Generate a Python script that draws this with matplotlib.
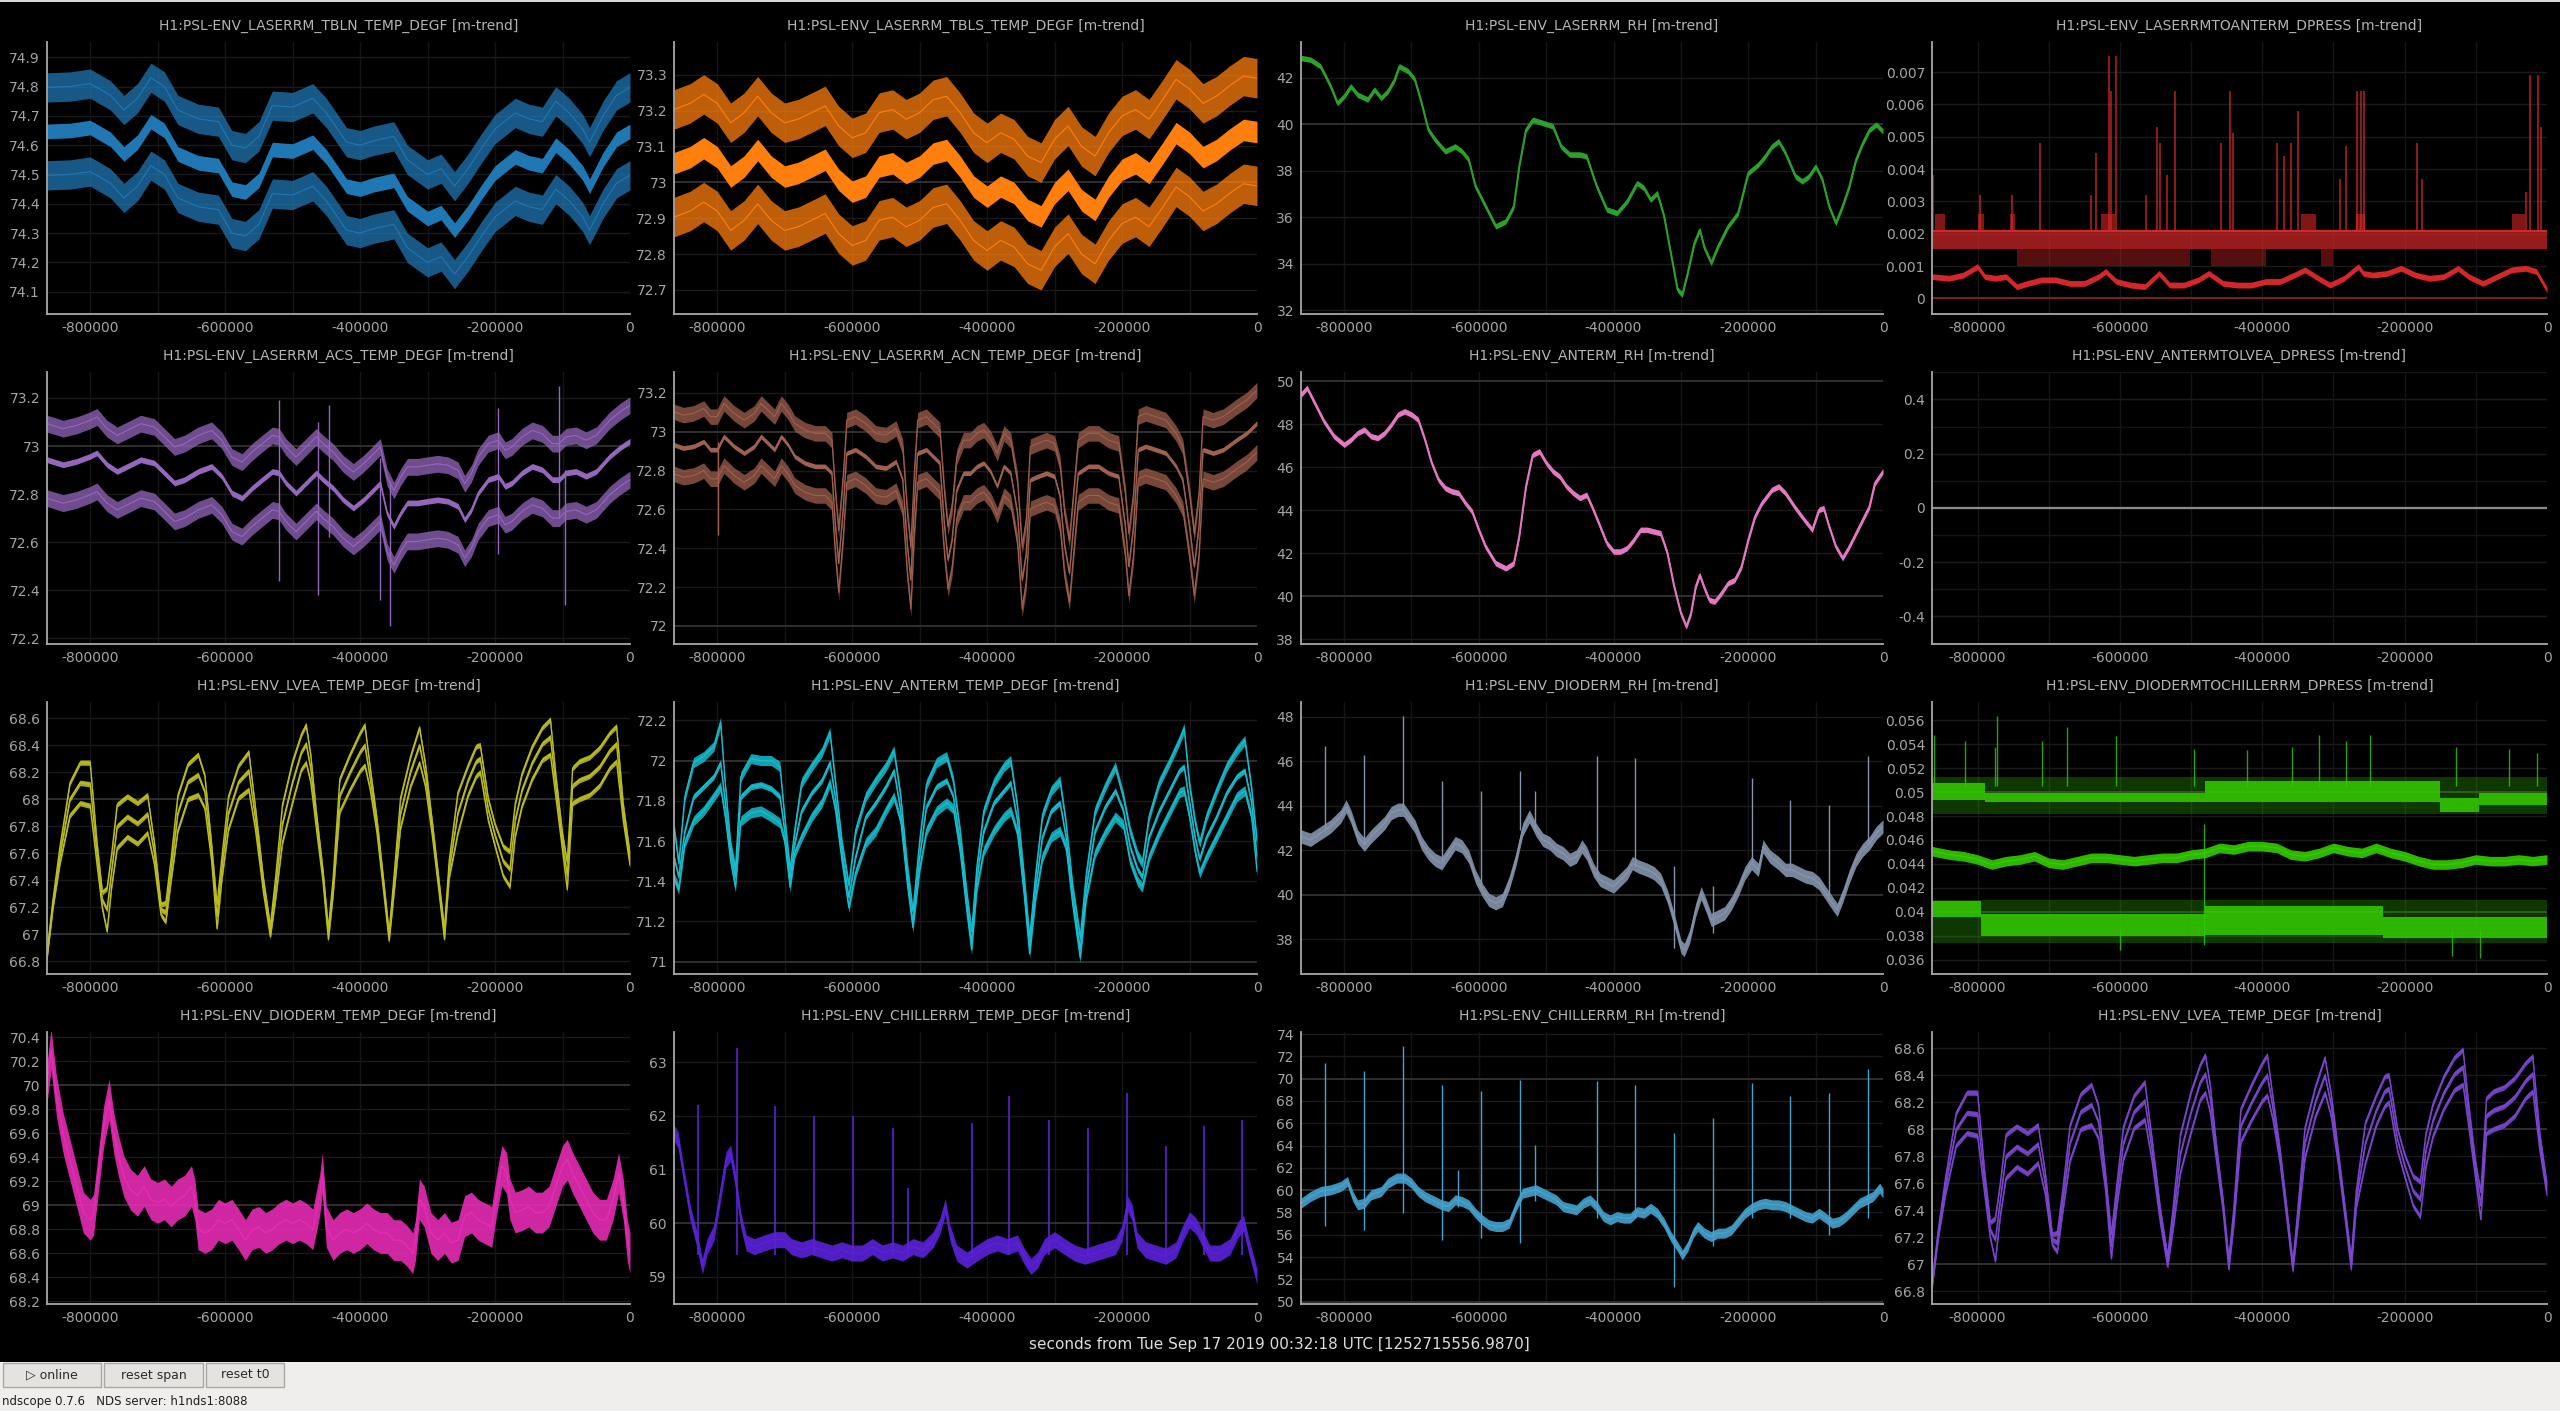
import numpy as np
import matplotlib.pyplot as plt
from matplotlib.patches import Rectangle

# ---- data: times in ks before t0 ----

TBLN_t = [-864, -830, -800, -770, -750, -730, -710, -690, -670, -640, -610, -590, -570, -550, -530, -500,
          -470, -450, -420, -400, -380, -350, -330, -300, -280, -260, -240, -220, -200, -170, -150, -130,
          -110, -90, -70, -60, -40, -20, 0]
TBLN_mean = [74.647, 74.65, 74.66, 74.62, 74.57, 74.61, 74.68, 74.65, 74.57, 74.54, 74.53, 74.45, 74.44,
             74.48, 74.585, 74.58, 74.61, 74.56, 74.46, 74.45, 74.465, 74.48, 74.40, 74.35, 74.37, 74.31,
             74.37, 74.44, 74.505, 74.56, 74.54, 74.53, 74.60, 74.56, 74.505, 74.46, 74.55, 74.62, 74.647]
TBLN_spread = (0.15, 0.15)

TBLS_t = [-864, -840, -820, -800, -780, -760, -740, -720, -700, -680, -660, -640, -620, -600, -580, -560,
          -540, -520, -500, -480, -460, -440, -420, -400, -380, -360, -340, -320, -300, -280, -260, -240,
          -220, -200, -180, -160, -140, -120, -100, -80, -60, -40, -20, 0]
TBLS_mean = [73.053, 73.07, 73.095, 73.07, 73.016, 73.044, 73.09, 73.044, 73.016, 73.026, 73.044, 73.063,
             73.007, 72.974, 72.988, 73.044, 73.053, 73.026, 73.044, 73.08, 73.09, 73.044, 72.988, 72.96,
             72.988, 72.97, 72.923, 72.905, 72.97, 73.007, 72.95, 72.923, 72.988, 73.035, 73.053, 73.026,
             73.08, 73.137, 73.11, 73.07, 73.09, 73.12, 73.146, 73.14]
TBLS_spread = (0.15, 0.15)

LRH_t = [-864, -850, -835, -820, -810, -800, -790, -780, -765, -755, -745, -735, -725, -718, -705, -695,
         -685, -675, -665, -650, -635, -625, -615, -605, -590, -575, -560, -548, -540, -530, -520, -505,
         -490, -478, -465, -450, -440, -425, -410, -395, -380, -365, -355, -345, -335, -325, -315, -305,
         -298, -290, -280, -272, -265, -255, -245, -230, -215, -200, -185, -175, -165, -155, -145, -130,
         -120, -110, -100, -90, -80, -70, -60, -50, -40, -30, -20, -10, 0]
LRH_v = [42.86, 42.79, 42.5, 41.64, 40.92, 41.21, 41.64, 41.28, 41.07, 41.5, 41.14, 41.43, 41.93, 42.5,
         42.29, 41.93, 40.92, 39.77, 39.34, 38.84, 39.05, 38.84, 38.48, 37.33, 36.47, 35.61, 35.82, 36.47,
         38.19, 39.77, 40.2, 40.06, 39.92, 39.05, 38.70, 38.70, 38.62, 37.33, 36.33, 36.18, 36.68, 37.47,
         37.26, 36.76, 37.04, 36.04, 34.46, 32.88, 32.66, 33.59, 34.89, 35.46, 34.67, 34.03, 34.74, 35.61,
         36.18, 37.91, 38.27, 38.62, 39.05, 39.27, 38.77, 37.76, 37.55, 37.76, 38.19, 37.62, 36.47, 35.75,
         36.47, 37.33, 38.48, 39.2, 39.77, 39.99, 39.7]

DP1_t = [-864, -840, -820, -800, -790, -775, -760, -745, -730, -710, -690, -670, -650, -630, -620, -605,
         -585, -565, -545, -530, -510, -490, -475, -455, -435, -415, -395, -375, -355, -340, -325, -305,
         -285, -265, -258, -245, -225, -205, -185, -165, -145, -125, -110, -90, -70, -50, -30, -15, 0]
DP1_mean = [0.67, 0.62, 0.72, 0.98, 0.67, 0.62, 0.67, 0.36, 0.46, 0.57, 0.57, 0.46, 0.46, 0.67, 0.83, 0.52,
            0.41, 0.36, 0.77, 0.41, 0.41, 0.57, 0.77, 0.46, 0.41, 0.41, 0.52, 0.52, 0.72, 0.88, 0.67, 0.41,
            0.62, 0.98, 0.77, 0.72, 0.77, 0.93, 0.72, 0.62, 0.67, 0.93, 0.67, 0.46, 0.67, 0.88, 0.93, 0.83,
            0.26]  # x 1e-3
DP1_max_band = (1.52, 2.08)
DP1_max_sparse = [(-744, -501), (-472, -395), (-318, -300)]
DP1_plateaus = [(-860, -846), (-800, -791), (-754, -747), (-627, -607), (-346, -324), (-268, -256),
                (-49, -31)]
DP1_spikes_t = [-863, -797, -751, -712, -640, -633, -616, -612, -606, -563, -548, -543, -534, -522, -458,
                -446, -441, -379, -370, -359, -350, -291, -282, -267, -261, -257, -183, -176, -30, -24,
                -12, -9]
DP1_spikes_top = [3.8, 3.2, 3.2, 4.8, 3.2, 4.5, 7.5, 6.4, 7.5, 3.2, 5.3, 4.8, 3.8, 6.4, 4.8, 6.4, 5.1,
                  4.8, 4.4, 4.8, 5.8, 3.7, 4.7, 6.4, 6.4, 6.4, 4.8, 3.7, 3.3, 6.9, 6.9, 5.3]

ACS_t = [-864, -840, -820, -800, -790, -775, -760, -745, -725, -705, -690, -675, -660, -640, -620, -605,
         -590, -575, -560, -545, -530, -520, -510, -495, -480, -465, -455, -440, -425, -410, -395, -380,
         -370, -360, -350, -340, -330, -315, -300, -285, -270, -255, -245, -235, -225, -210, -195, -185,
         -175, -160, -145, -130, -115, -105, -95, -80, -65, -50, -30, -15, 0]
ACS_mean = [72.943, 72.922, 72.936, 72.957, 72.971, 72.922, 72.894, 72.915, 72.943, 72.929, 72.888,
            72.846, 72.86, 72.894, 72.915, 72.874, 72.804, 72.783, 72.825, 72.86, 72.894, 72.888, 72.846,
            72.804, 72.846, 72.888, 72.86, 72.825, 72.776, 72.742, 72.776, 72.818, 72.846, 72.72, 72.665,
            72.72, 72.763, 72.763, 72.77, 72.776, 72.77, 72.749, 72.693, 72.735, 72.804, 72.86, 72.874,
            72.832, 72.846, 72.888, 72.915, 72.901, 72.86, 72.86, 72.888, 72.894, 72.874, 72.894, 72.957,
            72.992, 73.02]
ACS_spread = (0.15, 0.16)
ACS_spk_t = [-520, -463, -446, -370, -356, -195, -105, -97]
ACS_spk_lo = [72.44, 72.38, 72.62, 72.36, 72.25, 72.55, 72.70, 72.34]
ACS_spk_hi = [73.19, 73.10, 73.17, 72.95, 72.85, 73.16, 73.25, 72.90]

ACN_t = [-864, -850, -835, -820, -810, -800, -790, -775, -760, -745, -735, -725, -715, -705, -695, -685,
         -670, -655, -640, -630, -625, -620, -613, -608, -595, -580, -565, -550, -535, -525, -518, -513,
         -508, -503, -490, -480, -470, -463, -458, -452, -445, -435, -425, -415, -405, -395, -385, -375,
         -365, -355, -348, -342, -336, -325, -312, -300, -292, -285, -278, -272, -265, -250, -235, -220,
         -205, -195, -190, -183, -176, -165, -150, -135, -120, -110, -100, -93, -86, -80, -65, -50, -30,
         -15, 0]
ACN_mean = [72.933, 72.916, 72.925, 72.95, 72.908, 72.908, 72.976, 72.925, 72.89, 72.925, 72.976, 72.942,
            72.908, 72.976, 72.933, 72.873, 72.839, 72.822, 72.822, 72.787, 72.529, 72.323, 72.615, 72.89,
            72.908, 72.873, 72.822, 72.813, 72.847, 72.753, 72.409, 72.237, 72.615, 72.89, 72.908, 72.873,
            72.839, 72.512, 72.34, 72.443, 72.701, 72.787, 72.787, 72.822, 72.839, 72.796, 72.719, 72.822,
            72.787, 72.581, 72.237, 72.374, 72.753, 72.77, 72.787, 72.77, 72.667, 72.409, 72.271, 72.512,
            72.787, 72.822, 72.822, 72.787, 72.77, 72.512, 72.306, 72.512, 72.908, 72.925, 72.908, 72.89,
            72.822, 72.753, 72.512, 72.306, 72.512, 72.908, 72.89, 72.908, 72.959, 72.994, 73.045]
ACN_spread = (0.17, 0.15)
ACN_spk_t = [-799]
ACN_spk_lo = [72.47]
ACN_spk_hi = [72.95]

ARH_t = [-864, -855, -845, -830, -815, -800, -790, -780, -770, -760, -750, -740, -730, -720, -710, -700,
         -690, -680, -670, -660, -650, -640, -630, -620, -610, -600, -590, -575, -560, -548, -540, -530,
         -520, -510, -500, -490, -480, -470, -460, -450, -440, -430, -420, -410, -400, -390, -380, -370,
         -360, -350, -340, -330, -320, -310, -300, -292, -285, -278, -272, -265, -258, -250, -240, -230,
         -220, -210, -200, -190, -180, -165, -155, -145, -130, -115, -105, -95, -88, -80, -70, -60, -50,
         -40, -30, -20, -12, 0]
ARH_v = [49.38, 49.69, 49.07, 48.14, 47.44, 47.05, 47.28, 47.59, 47.75, 47.44, 47.36, 47.59, 47.98, 48.45,
         48.60, 48.45, 48.21, 47.28, 46.2, 45.42, 45.03, 44.88, 44.8, 44.33, 43.94, 43.09, 42.31, 41.54,
         41.3, 41.54, 42.78, 45.11, 46.58, 46.74, 46.2, 45.81, 45.57, 45.11, 44.8, 44.57, 44.72, 44.02,
         43.25, 42.47, 42.08, 42.08, 42.24, 42.62, 43.09, 43.09, 43.01, 42.93, 42.0, 40.45, 39.21, 38.59,
         39.21, 40.45, 40.99, 40.37, 39.83, 39.75, 40.14, 40.61, 40.76, 41.38, 42.62, 43.71, 44.33, 44.95,
         45.11, 44.8, 44.1, 43.48, 43.09, 44.02, 44.1, 43.25, 42.31, 41.77, 42.31, 42.93, 43.56, 44.18,
         45.26, 45.81]

A2L_t = [-864, 0]
A2L_v = [0.0, 0.0]

LVEA_t = [-864, -855, -845, -830, -815, -800, -790, -782, -775, -768, -760, -745, -730, -715, -705, -695,
          -688, -680, -670, -655, -640, -630, -620, -612, -605, -595, -580, -565, -555, -543, -533, -525,
          -515, -500, -487, -480, -473, -465, -455, -447, -440, -430, -415, -400, -393, -385, -375, -365,
          -357, -350, -340, -325, -312, -303, -293, -283, -275, -268, -255, -240, -228, -222, -210, -200,
          -188, -178, -170, -160, -145, -130, -118, -110, -100, -93, -85, -75, -60, -45, -30, -20, -10, 0]
LVEA_mid = [66.84, 67.23, 67.58, 68.0, 68.12, 68.11, 67.6, 67.25, 67.18, 67.48, 67.8, 67.87, 67.82, 67.89,
            67.6, 67.18, 67.16, 67.48, 67.9, 68.13, 68.18, 68.05, 67.6, 67.13, 67.48, 67.9, 68.13, 68.21,
            67.85, 67.35, 67.02, 67.35, 67.82, 68.13, 68.35, 68.41, 68.22, 67.85, 67.43, 67.0, 67.35, 68.03,
            68.2, 68.35, 68.4, 68.15, 67.8, 67.35, 66.98, 67.35, 67.9, 68.21, 68.4, 68.17, 67.78, 67.35,
            67.0, 67.48, 67.9, 68.14, 68.28, 68.3, 67.92, 67.73, 67.54, 67.48, 67.85, 68.07, 68.27, 68.41,
            68.46, 68.1, 67.68, 67.43, 68.1, 68.14, 68.17, 68.24, 68.36, 68.41, 67.9, 67.55]
LVEA_spread = [0.02, 0.03, 0.06, 0.12, 0.15, 0.16, 0.08, 0.06, 0.16, 0.12, 0.16, 0.15, 0.15, 0.14, 0.08,
               0.04, 0.07, 0.08, 0.13, 0.13, 0.15, 0.12, 0.06, 0.09, 0.08, 0.12, 0.12, 0.14, 0.08, 0.05,
               0.04, 0.08, 0.14, 0.15, 0.13, 0.14, 0.10, 0.06, 0.04, 0.04, 0.06, 0.12, 0.13, 0.14, 0.15,
               0.08, 0.05, 0.04, 0.03, 0.06, 0.11, 0.11, 0.13, 0.08, 0.05, 0.04, 0.04, 0.06, 0.15, 0.11,
               0.11, 0.10, 0.08, 0.08, 0.11, 0.13, 0.12, 0.12, 0.12, 0.12, 0.13, 0.08, 0.06, 0.10, 0.13,
               0.14, 0.14, 0.14, 0.13, 0.13, 0.06, 0.04]

ANT_t = [-864, -857, -848, -835, -820, -805, -795, -788, -780, -773, -765, -750, -735, -720, -707, -700,
         -692, -685, -675, -660, -645, -633, -625, -615, -605, -595, -580, -565, -550, -538, -528, -518,
         -510, -500, -490, -475, -460, -450, -440, -430, -423, -415, -405, -390, -375, -365, -355, -345,
         -337, -328, -318, -305, -292, -283, -273, -262, -253, -240, -225, -210, -198, -188, -177, -170,
         -160, -145, -130, -115, -108, -100, -92, -85, -75, -60, -45, -30, -18, -8, 0]
ANT_hi = [71.67, 71.49, 71.82, 71.99, 72.02, 72.07, 72.19, 71.88, 71.58, 71.46, 71.92, 72.01, 72.00, 72.00,
          71.97, 71.72, 71.46, 71.66, 71.89, 71.97, 72.04, 72.14, 71.90, 71.59, 71.38, 71.65, 71.82, 71.90,
          71.97, 72.05, 71.82, 71.47, 71.25, 71.60, 71.88, 71.99, 72.02, 71.90, 71.65, 71.34, 71.15, 71.48,
          71.75, 71.89, 71.97, 72.00, 71.77, 71.42, 71.12, 71.44, 71.73, 71.85, 71.90, 71.69, 71.37, 71.12,
          71.44, 71.75, 71.87, 71.97, 71.82, 71.65, 71.53, 71.49, 71.72, 71.89, 71.99, 72.10, 72.16, 71.88,
          71.70, 71.59, 71.72, 71.85, 71.97, 72.05, 72.10, 71.86, 71.60]
ANT_mid = [71.52, 71.42, 71.65, 71.82, 71.87, 71.92, 71.99, 71.79, 71.54, 71.42, 71.82, 71.87, 71.88, 71.86,
           71.82, 71.65, 71.41, 71.59, 71.75, 71.84, 71.90, 71.99, 71.82, 71.54, 71.32, 71.52, 71.72, 71.79,
           71.87, 71.95, 71.75, 71.42, 71.19, 71.52, 71.77, 71.87, 71.90, 71.82, 71.59, 71.29, 71.09, 71.42,
           71.65, 71.79, 71.85, 71.89, 71.70, 71.37, 71.07, 71.37, 71.62, 71.75, 71.79, 71.62, 71.32, 71.06,
           71.37, 71.65, 71.77, 71.85, 71.75, 71.57, 71.46, 71.42, 71.62, 71.75, 71.85, 71.95, 71.97, 71.79,
           71.62, 71.51, 71.62, 71.72, 71.84, 71.92, 71.95, 71.79, 71.52]
ANT_lo = [71.42, 71.36, 71.59, 71.70, 71.75, 71.82, 71.87, 71.72, 71.50, 71.37, 71.70, 71.74, 71.75, 71.72,
          71.69, 71.60, 71.37, 71.54, 71.62, 71.72, 71.79, 71.89, 71.76, 71.50, 71.27, 71.44, 71.59, 71.65,
          71.75, 71.82, 71.70, 71.38, 71.17, 71.46, 71.65, 71.75, 71.79, 71.76, 71.55, 71.25, 71.06, 71.37,
          71.55, 71.65, 71.72, 71.75, 71.64, 71.33, 71.04, 71.32, 71.52, 71.62, 71.65, 71.57, 71.28, 71.02,
          71.32, 71.54, 71.64, 71.72, 71.68, 71.50, 71.40, 71.37, 71.52, 71.64, 71.74, 71.84, 71.85, 71.72,
          71.55, 71.44, 71.52, 71.62, 71.72, 71.82, 71.85, 71.72, 71.45]

DRH_t = [-864, -850, -835, -820, -805, -797, -790, -780, -770, -760, -750, -740, -730, -720, -712, -705,
         -695, -685, -675, -665, -655, -645, -635, -625, -615, -605, -595, -585, -575, -565, -555, -545,
         -535, -525, -515, -505, -495, -485, -475, -465, -455, -447, -440, -430, -420, -410, -400, -390,
         -380, -372, -363, -350, -340, -330, -320, -310, -300, -295, -287, -278, -270, -262, -255, -245,
         -235, -225, -215, -205, -195, -185, -178, -168, -155, -145, -135, -125, -115, -105, -95, -85,
         -75, -68, -60, -50, -40, -30, -20, -10, 0]
DRH_v = [42.62, 42.47, 42.77, 43.07, 43.52, 43.97, 43.52, 42.62, 42.25, 42.62, 42.92, 43.22, 43.67, 43.82,
         43.82, 43.52, 43.07, 42.32, 41.87, 41.57, 41.42, 41.87, 42.32, 42.17, 41.72, 40.82, 40.22, 39.77,
         39.62, 39.77, 40.52, 41.57, 42.92, 43.52, 42.92, 42.47, 42.32, 42.02, 41.87, 41.57, 41.72, 42.17,
         41.87, 41.12, 40.67, 40.52, 40.37, 40.67, 40.97, 41.42, 41.27, 41.12, 40.97, 40.67, 39.92, 38.87,
         37.67, 37.52, 38.12, 39.32, 40.07, 39.47, 38.87, 39.02, 39.17, 39.62, 40.22, 40.97, 41.42, 41.12,
         42.17, 41.72, 41.42, 41.12, 41.12, 40.97, 40.82, 40.75, 40.52, 40.07, 39.62, 39.32, 39.92, 40.82,
         41.57, 42.02, 42.32, 42.77, 43.07]
DRH_spk_t = [-828, -770, -712, -655, -597, -539, -516, -425, -368, -310, -253, -195, -138, -80, -22]
DRH_spk_lo = [42.8, 42.3, 43.8, 41.4, 40.3, 42.9, 42.9, 40.8, 41.3, 37.6, 38.3, 41.4, 41.1, 40.0, 42.3]
DRH_spk_hi = [46.67, 46.29, 48.02, 45.1, 44.64, 45.54, 44.64, 46.22, 46.14, 41.3, 40.4, 45.24, 44.27,
              44.04, 46.22]

DP2_t = [-864, -840, -820, -800, -780, -760, -740, -720, -700, -680, -660, -640, -620, -600, -580, -560,
         -540, -520, -500, -480, -460, -440, -420, -400, -380, -360, -340, -320, -300, -280, -260, -240,
         -220, -200, -180, -160, -140, -120, -100, -80, -60, -40, -20, 0]
DP2_mean = [0.04506, 0.04478, 0.04464, 0.04437, 0.04395, 0.04423, 0.04437, 0.04464, 0.04409, 0.04395,
            0.04423, 0.04451, 0.04451, 0.04437, 0.04423, 0.04437, 0.04451, 0.04451, 0.04478, 0.04492,
            0.04534, 0.0452, 0.04548, 0.04548, 0.04534, 0.04478, 0.04464, 0.04492, 0.04534, 0.04506,
            0.04492, 0.04534, 0.04492, 0.04464, 0.04423, 0.04395, 0.04395, 0.04409, 0.04437, 0.04423,
            0.04423, 0.04437, 0.04423, 0.04437]
DP2_max_spans = [(-864, -790, 0.0493, 0.0508), (-790, -480, 0.0492, 0.0499), (-480, -150, 0.0492, 0.0509),
                 (-150, -95, 0.0483, 0.0495), (-95, 0, 0.0489, 0.0499)]
DP2_max_sparse = (0.0482, 0.0513)
DP2_min_spans = [(-864, -795, 0.0396, 0.0409), (-795, -480, 0.0380, 0.0398), (-480, -230, 0.0381, 0.0405),
                 (-230, 0, 0.0378, 0.0396)]
DP2_min_sparse = (0.0374, 0.0410)
DP2_spk_t = [-861, -817, -775, -772, -709, -675, -605, -496, -421, -358, -320, -283, -249, -128, -54, -14,
             -600, -134, -94, -482]
DP2_spk_lo = [0.0505, 0.0505, 0.0505, 0.0505, 0.0505, 0.0505, 0.0505, 0.0505, 0.0505, 0.0505, 0.0505,
              0.0505, 0.0505, 0.0505, 0.0505, 0.0505, 0.0368, 0.0363, 0.0361, 0.0372]
DP2_spk_hi = [0.0548, 0.0543, 0.0538, 0.0564, 0.0543, 0.0554, 0.0547, 0.0536, 0.0535, 0.0538, 0.0548,
              0.0543, 0.0548, 0.0538, 0.0536, 0.0533, 0.0385, 0.0385, 0.0385, 0.0473]

DT_t = [-864, -858, -850, -840, -830, -820, -810, -800, -795, -788, -780, -772, -765, -758, -750, -740,
        -730, -720, -710, -700, -690, -680, -670, -660, -650, -645, -640, -630, -620, -610, -600, -590,
        -580, -570, -560, -550, -540, -530, -520, -510, -500, -490, -480, -470, -460, -456, -450, -440,
        -430, -420, -410, -400, -390, -380, -370, -360, -350, -340, -330, -322, -318, -312, -305, -295,
        -285, -275, -265, -255, -245, -235, -225, -215, -205, -198, -190, -183, -178, -170, -160, -150,
        -140, -130, -120, -110, -100, -93, -85, -75, -65, -55, -45, -35, -25, -17, -10, -4, 0]
DT_v = [70.02, 70.3, 69.91, 69.6, 69.38, 69.16, 68.94, 68.88, 68.92, 69.27, 69.66, 69.88, 69.6, 69.41,
        69.24, 69.13, 69.08, 69.16, 69.05, 69.02, 69.05, 68.99, 69.05, 69.08, 69.16, 69.05, 68.8, 68.77,
        68.8, 68.88, 68.85, 68.88, 68.8, 68.71, 68.8, 68.82, 68.77, 68.8, 68.85, 68.88, 68.85, 68.88, 68.85,
        68.8, 69.08, 69.27, 68.82, 68.71, 68.77, 68.8, 68.77, 68.8, 68.85, 68.8, 68.77, 68.77, 68.71, 68.71,
        68.66, 68.6, 68.71, 69.05, 68.99, 68.77, 68.71, 68.77, 68.69, 68.71, 68.91, 68.94, 68.88, 68.85,
        68.82, 69.08, 69.33, 69.27, 69.05, 68.94, 68.96, 68.99, 68.94, 68.94, 68.99, 69.16, 69.33, 69.38,
        69.27, 69.16, 69.05, 68.94, 68.88, 68.88, 69.05, 69.27, 69.05, 68.71, 68.6]

CT_t = [-864, -858, -850, -840, -830, -822, -815, -805, -795, -787, -780, -773, -765, -757, -745, -730,
        -715, -700, -690, -675, -660, -645, -630, -615, -600, -585, -570, -555, -540, -525, -510, -495,
        -480, -470, -462, -455, -445, -430, -415, -400, -385, -370, -355, -345, -335, -325, -315, -300,
        -285, -270, -255, -240, -225, -210, -200, -192, -185, -178, -165, -150, -135, -120, -110, -100,
        -90, -80, -70, -55, -40, -28, -20, -12, -4, 0]
CT_v = [61.68, 61.56, 60.93, 60.19, 59.69, 59.19, 59.56, 59.81, 60.56, 61.18, 61.31, 60.81, 60.06, 59.63,
        59.56, 59.63, 59.69, 59.69, 59.56, 59.5, 59.56, 59.5, 59.44, 59.5, 59.44, 59.44, 59.56, 59.44, 59.5,
        59.44, 59.56, 59.5, 59.69, 59.94, 60.31, 59.81, 59.44, 59.31, 59.44, 59.56, 59.63, 59.56, 59.63,
        59.38, 59.19, 59.31, 59.56, 59.69, 59.56, 59.44, 59.38, 59.44, 59.5, 59.56, 59.81, 60.37, 60.19,
        59.69, 59.5, 59.44, 59.38, 59.5, 59.81, 60.06, 59.94, 59.69, 59.44, 59.44, 59.56, 59.88, 60.0,
        59.56, 59.19, 59.0]
CT_spk_t = [-829, -771, -714, -656, -598, -540, -517, -423, -367, -308, -251, -193, -135, -78, -22]
CT_spk_hi = [62.21, 63.27, 62.18, 61.99, 61.99, 61.78, 60.65, 61.87, 62.37, 61.93, 61.78, 62.43, 61.43,
             61.81, 61.93]

CRH_t = [-864, -850, -835, -820, -805, -795, -787, -780, -770, -760, -745, -735, -722, -710, -700, -690,
         -680, -665, -655, -645, -635, -625, -615, -605, -595, -585, -575, -565, -555, -545, -535, -525,
         -515, -505, -495, -485, -475, -465, -455, -445, -435, -425, -415, -405, -395, -385, -375, -365,
         -355, -345, -335, -325, -315, -305, -298, -290, -282, -275, -265, -255, -245, -235, -225, -215,
         -205, -195, -185, -175, -165, -155, -145, -135, -125, -115, -105, -95, -85, -75, -65, -55, -45,
         -35, -25, -15, -5, 0]
CRH_v = [58.83, 59.43, 59.88, 60.03, 60.33, 60.78, 59.43, 58.68, 58.83, 59.58, 59.88, 60.63, 61.08, 61.08,
         60.63, 59.88, 59.43, 58.98, 58.68, 58.53, 59.13, 58.98, 58.68, 57.93, 57.34, 56.89, 56.74, 56.74,
         57.04, 58.53, 59.73, 59.88, 60.03, 59.73, 59.43, 59.13, 58.53, 58.38, 58.23, 58.83, 59.13, 58.53,
         57.63, 57.34, 57.63, 57.49, 57.49, 58.08, 57.93, 58.38, 57.93, 57.04, 55.84, 54.94, 54.19, 54.94,
         56.14, 56.74, 56.14, 55.84, 56.14, 56.14, 56.44, 57.19, 57.93, 58.38, 58.68, 58.83, 58.68, 58.68,
         58.53, 58.23, 57.93, 57.63, 57.49, 57.93, 57.49, 57.04, 57.19, 57.63, 58.23, 58.83, 59.13, 59.43,
         60.18, 59.73]
CRH_spk_t = [-828, -770, -712, -655, -631, -597, -539, -516, -425, -368, -310, -253, -195, -138, -80, -22]
CRH_spk_lo = [56.74, 56.44, 57.93, 55.54, 58.5, 55.69, 55.24, 59.0, 57.5, 57.5, 51.35, 55.0, 57.5, 57.5,
              56.0, 57.5]
CRH_spk_hi = [71.41, 70.72, 72.9, 69.46, 61.8, 68.86, 69.91, 64.07, 69.76, 69.46, 65.12, 66.47, 69.61,
              68.41, 68.71, 70.9]

# ---- figure ----
W, H = 2560, 1411
fig = plt.figure(figsize=(W / 100, H / 100), dpi=100, facecolor='black')

cols = [(47, 630), (674, 1257), (1301, 1883), (1932, 2547)]
rows = [(42, 314), (372, 644), (702, 974), (1032, 1304)]


def panel(r, c, title, ylim, ystep, major, minor=None):
    l, rr = cols[c]
    t, b = rows[r]
    ax = fig.add_axes([l / W, 1 - b / H, (rr - l) / W, (b - t) / H])
    ax.set_facecolor('black')
    ax.set_xlim(-864000, 0)
    ax.set_ylim(*ylim)
    xt = np.arange(-800000, 1, 200000)
    ax.set_xticks(xt)
    ax.set_xticklabels([str(int(v)) for v in xt])
    yt = np.round(np.arange(np.ceil(ylim[0] / ystep - 1e-6) * ystep, ylim[1], ystep), 6)
    yt = np.where(np.abs(yt) < 1e-12, 0.0, yt)
    ax.set_yticks(yt)
    ax.set_yticklabels(['%g' % (v if abs(v) > 1e-12 else 0.0) for v in yt])
    for v in np.arange(-800000, 0, 100000):
        ax.axvline(v, color='#151515', lw=1, zorder=0)
    if minor:
        for v in np.round(np.arange(np.ceil(ylim[0] / minor) * minor, ylim[1], minor), 6):
            ax.axhline(v, color='#151515', lw=1, zorder=0)
    for v in yt:
        q = v / major
        bright = abs(q - round(q)) < 1e-6
        ax.axhline(v, color='#343434' if bright else '#1a1a1a', lw=1.3 if bright else 1, zorder=0)
    for s in ['top', 'right']:
        ax.spines[s].set_visible(False)
    for s in ['left', 'bottom']:
        ax.spines[s].set_color('#a8a8a8')
        ax.spines[s].set_linewidth(1.3)
    ax.tick_params(length=0, colors='#a4a4a4', labelsize=10)
    ax.tick_params(axis='x', pad=5)
    ax.tick_params(axis='y', pad=5)
    fig.text((l + rr) / 2 / W, 1 - (t - 16) / H, title + ' [m-trend]', ha='center', va='center',
             color='#b4b4b4', fontsize=10)
    return ax


def trace(ax, t, y, hw, color, lw=0.8, alpha=0.9):
    x = np.asarray(t) * 1000.0
    y = np.asarray(y, dtype=float)
    ax.fill_between(x, y - hw, y + hw, color=color, lw=0, alpha=alpha)
    ax.plot(x, y, color=color, lw=lw)


def three(ax, t, mean, spread, hw_out, hw_mid, color):
    m = np.asarray(mean)
    trace(ax, t, m + spread[0], hw_out, color, alpha=0.75)
    trace(ax, t, m - spread[1], hw_out, color, alpha=0.75)
    trace(ax, t, m, hw_mid, color, lw=1.0, alpha=1)


def spikes(ax, t, lo, hi, color, lw=1.0, alpha=1.0):
    ax.vlines(np.asarray(t) * 1000.0, lo, hi, color=color, lw=lw, alpha=alpha)


# row 1
ax = panel(0, 0, 'H1:PSL-ENV_LASERRM_TBLN_TEMP_DEGF', (74.024, 74.952), 0.1, 1.0)
three(ax, TBLN_t, TBLN_mean, TBLN_spread, 0.05, 0.025, '#1f77b4')

ax = panel(0, 1, 'H1:PSL-ENV_LASERRM_TBLS_TEMP_DEGF', (72.633, 73.391), 0.1, 1.0)
three(ax, TBLS_t, TBLS_mean, TBLS_spread, 0.055, 0.03, '#ff7f0e')

ax = panel(0, 2, 'H1:PSL-ENV_LASERRM_RH', (31.83, 43.55), 2, 10)
trace(ax, LRH_t, LRH_v, 0.12, '#2ca02c', lw=1.4, alpha=1)

ax = panel(0, 3, 'H1:PSL-ENV_LASERRMTOANTERM_DPRESS', (-0.000485, 0.00793), 0.001, 0.01)
red = '#d62728'
ax.fill_between([-864000, 0], DP1_max_band[0] * 1e-3, DP1_max_band[1] * 1e-3, color=red, lw=0, alpha=0.7)
for a, b in DP1_max_sparse:
    ax.fill_between([a * 1000, b * 1000], 1.0e-3, DP1_max_band[0] * 1e-3, color=red, lw=0, alpha=0.4)
for a, b in DP1_plateaus:
    ax.fill_between([a * 1000, b * 1000], DP1_max_band[1] * 1e-3, 2.6e-3, color=red, lw=0, alpha=0.6)
ax.axhline(DP1_max_band[1] * 1e-3, color=red, lw=1.5)
spikes(ax, DP1_spikes_t, 2.08e-3, np.asarray(DP1_spikes_top) * 1e-3, red, lw=1.2, alpha=0.8)
ax.axhline(0, color='#8a1c1c', lw=1.2)
trace(ax, DP1_t, np.asarray(DP1_mean) * 1e-3, 0.00009, red, lw=1.0, alpha=1)

# row 2
ax = panel(1, 0, 'H1:PSL-ENV_LASERRM_ACS_TEMP_DEGF', (72.176, 73.308), 0.2, 1.0)
three(ax, ACS_t, ACS_mean, ACS_spread, 0.035, 0.012, '#9467bd')
spikes(ax, ACS_spk_t, ACS_spk_lo, ACS_spk_hi, '#9467bd')

ax = panel(1, 1, 'H1:PSL-ENV_LASERRM_ACN_TEMP_DEGF', (71.907, 73.308), 0.2, 1.0)
three(ax, ACN_t, ACN_mean, ACN_spread, 0.04, 0.012, '#a0604f')
spikes(ax, ACN_spk_t, ACN_spk_lo, ACN_spk_hi, '#a0604f')

ax = panel(1, 2, 'H1:PSL-ENV_ANTERM_RH', (37.78, 50.43), 2, 10)
trace(ax, ARH_t, ARH_v, 0.13, '#e377c2', lw=1.4, alpha=1)

ax = panel(1, 3, 'H1:PSL-ENV_ANTERMTOLVEA_DPRESS', (-0.502, 0.501), 0.2, 1.0, minor=0.1)
ax.plot(np.asarray(A2L_t) * 1000.0, A2L_v, color='#8c8c8c', lw=1.6)

# row 3
lvea_mid = np.asarray(LVEA_mid)
lvea_sp = np.asarray(LVEA_spread)
ax = panel(2, 0, 'H1:PSL-ENV_LVEA_TEMP_DEGF', (66.704, 68.719), 0.2, 1.0)
for y in (lvea_mid + lvea_sp, lvea_mid - lvea_sp, lvea_mid):
    trace(ax, LVEA_t, y, 0.02, '#bcbd22', lw=1.0)

ax = panel(2, 1, 'H1:PSL-ENV_ANTERM_TEMP_DEGF', (70.939, 72.291), 0.2, 1.0)
for y in (ANT_hi, ANT_lo):
    trace(ax, ANT_t, y, 0.025, '#17becf', lw=0.9, alpha=0.85)
trace(ax, ANT_t, ANT_mid, 0.015, '#17becf', lw=1.0)

ax = panel(2, 2, 'H1:PSL-ENV_DIODERM_RH', (36.44, 48.66), 2, 10)
spikes(ax, DRH_spk_t, DRH_spk_lo, DRH_spk_hi, '#8494ac', lw=1.0)
trace(ax, DRH_t, DRH_v, 0.3, '#8494ac', lw=1.0)

ax = panel(2, 3, 'H1:PSL-ENV_DIODERMTOCHILLERRM_DPRESS', (0.0348, 0.05753), 0.002, 0.01)
green = '#33cc00'
ax.fill_between([-864000, 0], DP2_max_sparse[0], DP2_max_sparse[1], color=green, lw=0, alpha=0.28)
ax.fill_between([-864000, 0], DP2_min_sparse[0], DP2_min_sparse[1], color=green, lw=0, alpha=0.28)
for a, b, lo, hi in DP2_max_spans + DP2_min_spans:
    ax.fill_between([a * 1000, b * 1000], lo, hi, color=green, lw=0, alpha=0.85)
spikes(ax, DP2_spk_t, DP2_spk_lo, DP2_spk_hi, green, lw=1.0, alpha=0.8)
trace(ax, DP2_t, DP2_mean, 0.0004, green, lw=1.0)

# row 4
ax = panel(3, 0, 'H1:PSL-ENV_DIODERM_TEMP_DEGF', (68.178, 70.444), 0.2, 1.0)
trace(ax, DT_t, DT_v, 0.17, '#e62cb4', lw=1.0)

ax = panel(3, 1, 'H1:PSL-ENV_CHILLERRM_TEMP_DEGF', (58.489, 63.567), 1, 5)
spikes(ax, CT_spk_t, 59.4, CT_spk_hi, '#5a22d8', lw=1.2)
trace(ax, CT_t, CT_v, 0.15, '#5a22d8', lw=1.0)

ax = panel(3, 2, 'H1:PSL-ENV_CHILLERRM_RH', (49.79, 74.18), 2, 10)
spikes(ax, CRH_spk_t, CRH_spk_lo, CRH_spk_hi, '#45a3cf', lw=1.0)
trace(ax, CRH_t, CRH_v, 0.45, '#45a3cf', lw=1.0)

ax = panel(3, 3, 'H1:PSL-ENV_LVEA_TEMP_DEGF', (66.704, 68.719), 0.2, 1.0)
for y in (lvea_mid + lvea_sp, lvea_mid - lvea_sp, lvea_mid):
    trace(ax, LVEA_t, y, 0.02, '#7b46cf', lw=1.0)

# time axis label
fig.text(1279 / W, 1 - 1344 / H, 'seconds from Tue Sep 17 2019 00:32:18 UTC [1252715556.9870]',
         ha='center', va='center', color='#dcdcdc', fontsize=11)

# window chrome: top edge, bottom toolbar and status line
fig.patches.append(Rectangle((0, 1 - 2 / H), 1, 2 / H, transform=fig.transFigure,
                             facecolor='#d8d8d8', edgecolor='none'))
fig.patches.append(Rectangle((0, 0), 1, 49 / H, transform=fig.transFigure,
                             facecolor='#efeeec', edgecolor='none'))
buttons = [('\u25b7 online', 3, 101), ('reset span', 104, 203), ('reset t0', 206, 284)]
for label, x0, x1 in buttons:
    fig.patches.append(Rectangle((x0 / W, 1 - 1387 / H), (x1 - x0) / W, 24 / H,
                                 transform=fig.transFigure, facecolor='#e4e3e0',
                                 edgecolor='#a9a8a4', lw=1))
    fig.text((x0 + x1) / 2 / W, 1 - 1375 / H, label, ha='center', va='center',
             color='#2a2a2a', fontsize=9)
fig.text(2 / W, 1 - 1401 / H, 'ndscope 0.7.6   NDS server: h1nds1:8088', ha='left', va='center',
         color='#202020', fontsize=8.5)

fig.savefig('out.png', dpi=100, facecolor=fig.get_facecolor())
